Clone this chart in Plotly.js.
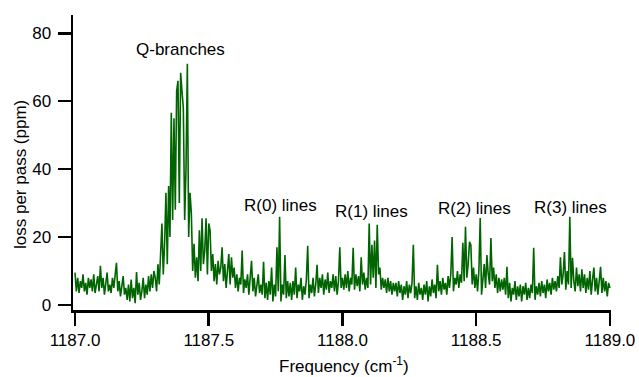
<!DOCTYPE html>
<html>
<head>
<meta charset="utf-8">
<script src="https://cdn.plot.ly/plotly-3.0.1.min.js"></script>
<style>html,body{margin:0;padding:0;background:#fff;}#chart{width:639px;height:377px;}</style>
</head>
<body>
<div id="chart"></div>
<script>
// Frequency grid (cm^-1): start and step of the sampled spectrum
const freqStart = 1187.0;
const freqStep = 0.005;

// Loss per pass (ppm), one value per grid step
const loss = [
  // 1187.00 - 1187.095
  9.5, 4, 8, 3.5, 7, 5, 9, 4, 6.5, 3, 8, 5, 7.5, 4, 9, 3.5, 6, 8.5, 4, 11.5,
  // 1187.10
  5, 8, 3, 7, 9.5, 4, 6, 3.5, 8, 5, 10, 12.4, 4, 7, 2.5, 6, 8.5, 3, 5, 1.5,
  // 1187.20
  6, 1, 7.5, 2, 5, 0.5, 9.7, 3, 6.5, 1.5, 4, 8, 2, 6, 3, 8.5, 4, 9, 5, 10,
  // 1187.30 (Q-branches)
  8, 4, 12, 6, 15, 24, 9, 18, 33, 12, 35, 20, 56.6, 25, 55, 28, 63, 66, 30, 68.4,
  // 1187.40
  63, 58, 25, 40, 71, 20, 33, 27, 10, 18, 8, 14, 7, 22, 10, 25.5, 12, 16, 25.5, 9,
  // 1187.50
  24, 22, 10, 15, 7, 12, 6, 13, 9, 11, 17, 7, 12, 5, 10, 15, 6, 14, 8, 11,
  // 1187.60 (R(0))
  5, 9, 4, 8, 6, 16, 3.5, 7.5, 5, 9, 3, 7, 13, 4, 8, 2.5, 6.5, 9, 3.5, 6,
  // 1187.70
  3, 12.7, 2, 6.5, 1.5, 7, 3, 11, 1, 6, 2.5, 17, 4, 26, 1, 6, 3, 14.7, 2, 7,
  // 1187.80
  2.5, 6.5, 1.5, 7, 3, 11, 2, 6, 4, 8, 1.5, 5.5, 3, 7.5, 17.4, 2, 6, 3.5, 8, 2.5,
  // 1187.90
  6, 11.8, 3.5, 8, 5, 9, 3, 7.5, 4.5, 9.5, 3.5, 7, 5, 9, 4, 8.5, 3, 7, 17, 5,
  // 1188.00 (R(1))
  8, 4.5, 9, 5, 10, 4, 8, 6, 16.8, 4.5, 9, 5.5, 8.5, 4, 14, 6, 9.5, 4.5, 8, 5,
  // 1188.10
  24, 6, 17.7, 8, 19, 5, 23.6, 9, 11, 4.5, 8, 5, 7.5, 3.5, 8, 4, 7, 3, 6.5, 4,
  // 1188.20
  6.5, 2.5, 7, 3.5, 6, 1.5, 5.5, 3, 7, 2, 6, 3.5, 6.5, 17.7, 2, 5.5, 1.5, 6.5, 3, 5,
  // 1188.30
  1.5, 6, 3, 7, 1, 5.5, 2.5, 7.5, 3.5, 6, 2, 11.8, 4, 7, 3, 8, 4.5, 6.5, 3, 8.5,
  // 1188.40 (R(2))
  5, 9, 20, 4, 8, 6, 10, 5, 9, 6.5, 18.3, 7, 23, 8, 12, 18.6, 17.7, 6, 11, 5,
  // 1188.50
  9, 4, 10, 25.6, 3, 8, 12, 5, 14.7, 9, 6, 19.7, 7, 11, 5, 9, 3.5, 8, 4, 7.5,
  // 1188.60
  4.5, 8, 3, 11.2, 2, 6.5, 1, 5, 3, 7, 1.5, 5.5, 2.5, 6, 1, 5.5, 3, 6.5, 1.5, 5,
  // 1188.70
  2, 6, 3.5, 16.8, 1.5, 5.5, 3, 6.5, 2.5, 7, 3.5, 6, 2, 7.5, 4, 6.5, 3, 8, 4.5, 7,
  // 1188.80 (R(3))
  4, 8.5, 5, 14, 6, 9, 15.6, 4.5, 10, 6, 26, 5, 13.9, 7, 4, 11, 5.5, 9, 4, 10.5,
  // 1188.90
  5, 9, 3.5, 8, 4.5, 10, 3, 7.5, 11, 4, 8, 3, 7, 11.2, 3.5, 8, 4, 7, 2.5, 6.5,
  // 1189.00
  5
];

// Axis ticks
const xTickVals = [1187.0, 1187.5, 1188.0, 1188.5, 1189.0];
const xTickText = ['1187.0', '1187.5', '1188.0', '1188.5', '1189.0'];
const yTickVals = [0, 20, 40, 60, 80];

// Band labels
const bandLabels = ['Q-branches', 'R(0) lines', 'R(1) lines', 'R(2) lines', 'R(3) lines'];
const bandLabelX = [1187.396, 1187.770, 1188.110, 1188.492, 1188.852];
const bandLabelY = [75.3, 29.2, 27.4, 28.4, 28.6];

const freq = loss.map((_, i) => +(freqStart + i * freqStep).toFixed(4));

const FONT = 'Liberation Sans, Arial, Helvetica, sans-serif';

const trace = {
  x: freq, y: loss, type: 'scatter', mode: 'lines',
  line: {color: '#006400', width: 1.6},
  hoverinfo: 'skip'
};

const annotations = bandLabels.map((t, i) => ({
  text: t, x: bandLabelX[i], y: bandLabelY[i], xref: 'x', yref: 'y',
  showarrow: false, xanchor: 'center', yanchor: 'middle',
  font: {family: FONT, size: 17, color: '#000'}
}));
annotations.push({
  text: 'loss per pass (ppm)', xref: 'paper', yref: 'paper',
  x: -0.0985, y: 0.4576, textangle: -90, showarrow: false,
  xanchor: 'center', yanchor: 'middle',
  font: {family: FONT, size: 17, color: '#000'}
});
annotations.push({
  text: 'Frequency (cm<sup>-1</sup>)', xref: 'paper', yref: 'paper',
  x: 0.503, y: -0.185, showarrow: false,
  xanchor: 'center', yanchor: 'middle',
  font: {family: FONT, size: 17, color: '#000'}
});

const layout = {
  width: 639, height: 377,
  margin: {l: 73, r: 28, t: 15, b: 67, pad: 0},
  paper_bgcolor: '#fff', plot_bgcolor: '#fff',
  showlegend: false,
  font: {family: FONT, size: 17, color: '#000'},
  xaxis: {
    range: [1186.9925, 1189.004],
    tickvals: xTickVals, ticktext: xTickText,
    showline: true, linecolor: '#000', linewidth: 2.5,
    ticks: 'outside', ticklen: 13, tickwidth: 2.5, tickcolor: '#000',
    showgrid: false, zeroline: false,
    ticklabelstandoff: 0,
    tickfont: {family: FONT, size: 17, color: '#000'}
  },
  yaxis: {
    range: [-1.5, 85.4],
    tickvals: yTickVals,
    showline: true, linecolor: '#000', linewidth: 2.5,
    ticks: 'outside', ticklen: 13, tickwidth: 2.5, tickcolor: '#000',
    showgrid: false, zeroline: false,
    ticklabelstandoff: 3,
    tickfont: {family: FONT, size: 17, color: '#000'}
  },
  annotations: annotations
};

Plotly.newPlot('chart', [trace], layout, {displayModeBar: false, staticPlot: true});
</script>
</body>
</html>
